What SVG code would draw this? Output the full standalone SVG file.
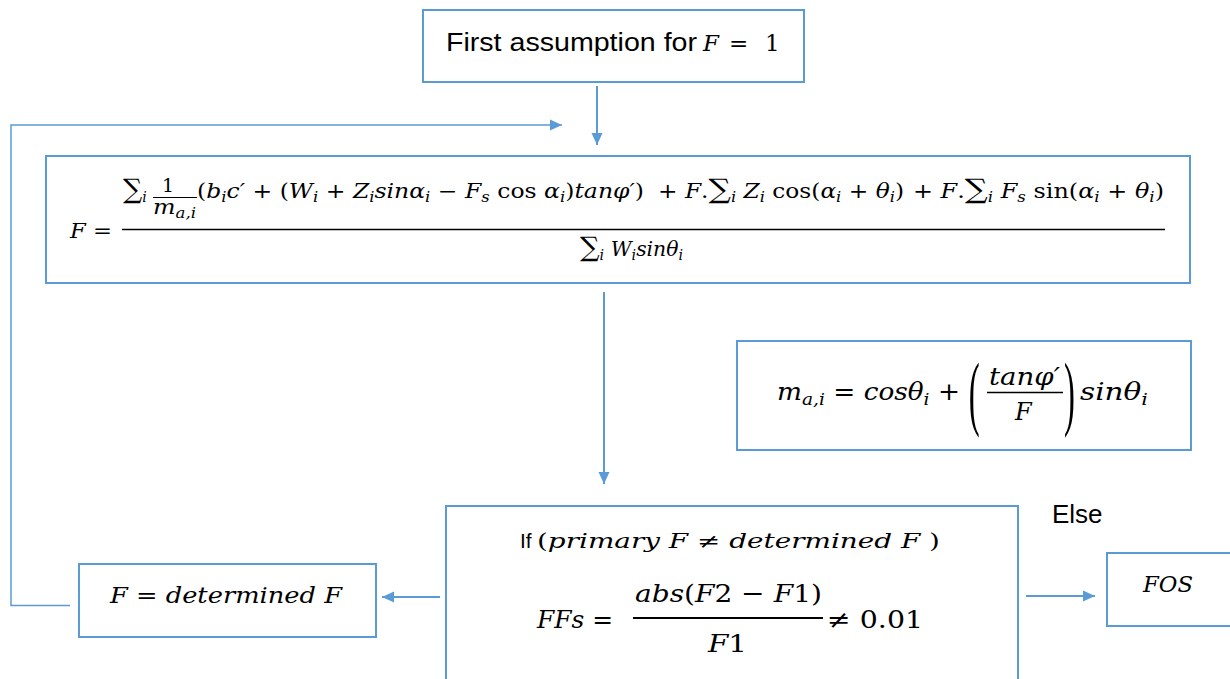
<svg xmlns="http://www.w3.org/2000/svg" width="1230" height="679" viewBox="0 0 1230 679">
<style>
.box{fill:#fff;stroke:#5B9BD5;stroke-width:2}
.con{fill:none;stroke:#5B9BD5;stroke-width:2}
.thin{fill:none;stroke:#5B9BD5;stroke-width:1.5}
.sans{font-family:"Liberation Sans",Arial,sans-serif;fill:#000}
.mi{font-family:"DejaVu Serif","Liberation Serif",serif;font-style:italic;fill:#000}
.u{font-style:normal}
.sb{font-size:14px}
.sig{font-size:27px;font-style:normal}
.par{font-family:"Liberation Serif","Times New Roman",serif;fill:#000}
.bar{stroke:#000;stroke-width:1.6}
</style>
<defs>
<marker id="ah" markerUnits="userSpaceOnUse" markerWidth="12" markerHeight="12" refX="12" refY="6" orient="auto">
<path d="M0,0.5 L12,6 L0,11.5 z" fill="#5B9BD5"/>
</marker>
</defs>
<rect width="1230" height="679" fill="#fff"/>

<g id="connectors">
<line class="con" x1="597" y1="86" x2="597" y2="145" marker-end="url(#ah)"/>
<polyline class="thin" points="70,605.5 11,605.5 11,125 562,125" marker-end="url(#ah)"/>
<line class="con" x1="604" y1="292" x2="604" y2="484" marker-end="url(#ah)"/>
<line class="con" x1="440" y1="597" x2="382" y2="597" marker-end="url(#ah)"/>
<line class="con" x1="1026" y1="596" x2="1095" y2="596" marker-end="url(#ah)"/>
</g>

<g id="start">
<rect class="box" x="423" y="10" width="381" height="72"/>
<text x="446" y="51" class="sans" font-size="26" textLength="251" lengthAdjust="spacingAndGlyphs">First assumption for</text>
<text x="703" y="51" class="mi" font-size="23">F</text>
<text x="729" y="51" class="mi u" font-size="23">=</text>
<text x="765" y="51" class="mi u" font-size="23">1</text>
</g>

<g id="main-formula">
<rect class="box" x="46" y="156" width="1144" height="127"/>
<text x="70" y="238" class="mi" font-size="20" textLength="42" lengthAdjust="spacingAndGlyphs">F <tspan class="u">=</tspan></text>
<line class="bar" x1="122" y1="229.5" x2="1165" y2="229.5"/>
<text x="123" y="198" class="mi" font-size="20"><tspan class="sig">∑</tspan><tspan class="sb" dy="4">i</tspan></text>
<text x="162" y="192" class="mi u" font-size="19">1</text>
<line x1="153" y1="197.5" x2="197" y2="197.5" stroke="#000" stroke-width="1.2"/>
<text x="153" y="214" class="mi" font-size="20" textLength="43" lengthAdjust="spacingAndGlyphs">m<tspan class="sb" dy="4">a,i</tspan></text>
<text x="197" y="198" class="mi" font-size="20" textLength="447" lengthAdjust="spacingAndGlyphs"><tspan class="u">(</tspan>b<tspan class="sb" dy="4">i</tspan><tspan dy="-4">c′ </tspan><tspan class="u">+ (</tspan>W<tspan class="sb" dy="4">i</tspan><tspan dy="-4" class="u"> + </tspan>Z<tspan class="sb" dy="4">i</tspan><tspan dy="-4">sinα</tspan><tspan class="sb" dy="4">i</tspan><tspan dy="-4" class="u"> − </tspan>F<tspan class="sb" dy="4">s</tspan><tspan dy="-4" class="u"> cos </tspan>α<tspan class="sb" dy="4">i</tspan><tspan dy="-4" class="u">)</tspan>tanφ′<tspan class="u">)</tspan></text>
<text x="658" y="198" class="mi" font-size="20" textLength="246" lengthAdjust="spacingAndGlyphs"><tspan class="u">+ </tspan>F<tspan class="u">.</tspan><tspan class="sig">∑</tspan><tspan class="sb" dy="4">i</tspan><tspan dy="-4"> Z</tspan><tspan class="sb" dy="4">i</tspan><tspan dy="-4" class="u"> cos(</tspan>α<tspan class="sb" dy="4">i</tspan><tspan dy="-4" class="u"> + </tspan>θ<tspan class="sb" dy="4">i</tspan><tspan dy="-4" class="u">)</tspan></text>
<text x="913" y="198" class="mi" font-size="20" textLength="251" lengthAdjust="spacingAndGlyphs"><tspan class="u">+ </tspan>F<tspan class="u">.</tspan><tspan class="sig">∑</tspan><tspan class="sb" dy="4">i</tspan><tspan dy="-4"> F</tspan><tspan class="sb" dy="4">s</tspan><tspan dy="-4" class="u"> sin(</tspan>α<tspan class="sb" dy="4">i</tspan><tspan dy="-4" class="u"> + </tspan>θ<tspan class="sb" dy="4">i</tspan><tspan dy="-4" class="u">)</tspan></text>
<text x="580" y="256" class="mi" font-size="20" textLength="103" lengthAdjust="spacingAndGlyphs"><tspan class="sig">∑</tspan><tspan class="sb" dy="4">i</tspan><tspan dy="-4"> W</tspan><tspan class="sb" dy="4">i</tspan><tspan dy="-4">sinθ</tspan><tspan class="sb" dy="4">i</tspan></text>
</g>

<g id="m-formula">
<rect class="box" x="737" y="341" width="454" height="109"/>
<text x="777" y="400" class="mi" font-size="24" textLength="183" lengthAdjust="spacingAndGlyphs">m<tspan font-size="17" dy="5">a,i</tspan><tspan dy="-5" class="u"> = </tspan>cosθ<tspan font-size="17" dy="5">i</tspan><tspan dy="-5" class="u"> +</tspan></text>
<text transform="scale(0.4,1)" x="2422" y="420" class="par" font-size="82">(</text>
<text transform="scale(0.4,1)" x="2660" y="420" class="par" font-size="82">)</text>
<text x="989" y="385" class="mi" font-size="24" textLength="71" lengthAdjust="spacingAndGlyphs">tanφ′</text>
<line class="bar" x1="987" y1="392.5" x2="1063" y2="392.5"/>
<text x="1015" y="420" class="mi" font-size="24">F</text>
<text x="1080" y="400" class="mi" font-size="24" textLength="68" lengthAdjust="spacingAndGlyphs">sinθ<tspan font-size="17" dy="5">i</tspan></text>
</g>

<g id="decision">
<rect class="box" x="446" y="506" width="572" height="190"/>
<text x="520" y="548" class="sans" font-size="21">If</text>
<text x="537" y="548" class="mi" font-size="20" textLength="403" lengthAdjust="spacingAndGlyphs"><tspan class="u">(</tspan>primary F  <tspan class="u">≠</tspan>  determined F <tspan class="u">)</tspan></text>
<text x="537" y="628" class="mi" font-size="25" textLength="76" lengthAdjust="spacingAndGlyphs">FFs <tspan class="u">=</tspan></text>
<text x="635" y="602" class="mi" font-size="25" textLength="187" lengthAdjust="spacingAndGlyphs">abs<tspan class="u">(</tspan>F<tspan class="u">2 − </tspan>F<tspan class="u">1)</tspan></text>
<line x1="633" y1="618" x2="823" y2="618" stroke="#000" stroke-width="2"/>
<text x="708" y="652" class="mi" font-size="25" textLength="39" lengthAdjust="spacingAndGlyphs">F<tspan class="u">1</tspan></text>
<text x="827" y="628" class="mi u" font-size="25" textLength="96" lengthAdjust="spacingAndGlyphs">≠ 0.01</text>
</g>

<g id="update">
<rect class="box" x="79" y="564" width="297" height="73"/>
<text x="110" y="603" class="mi" font-size="22" textLength="232" lengthAdjust="spacingAndGlyphs">F <tspan class="u">=</tspan> determined F</text>
</g>

<g id="else-label">
<text x="1052" y="523" class="sans" font-size="26">Else</text>
</g>

<g id="fos">
<rect class="box" x="1107" y="553" width="140" height="73"/>
<text x="1143" y="592" class="mi" font-size="23" textLength="50" lengthAdjust="spacingAndGlyphs">FOS</text>
</g>
</svg>
